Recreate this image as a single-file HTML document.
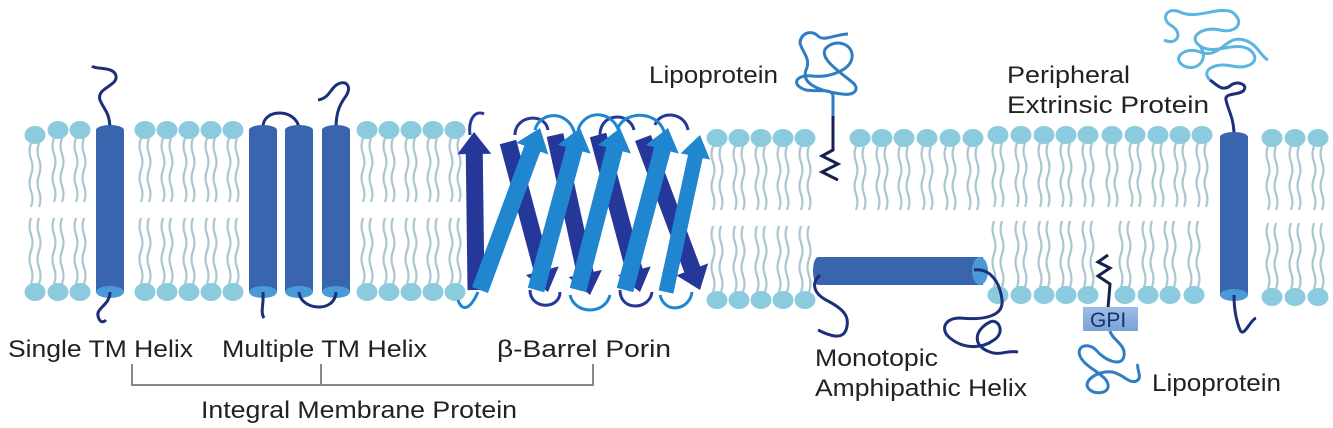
<!DOCTYPE html>
<html><head><meta charset="utf-8"><style>
html,body{margin:0;padding:0;background:#fff;width:1333px;height:428px;overflow:hidden}
text{font-family:"Liberation Sans",Arial,sans-serif;fill:#222;font-size:24px}
</style></head><body>
<svg id="s" width="1333" height="428" viewBox="0 0 1333 428" xmlns="http://www.w3.org/2000/svg">
<g id="lip"></g>
<defs>
<linearGradient id="gpi" x1="0" y1="0" x2="0" y2="1"><stop offset="0" stop-color="#9dbde6"/><stop offset="1" stop-color="#7aa3d8"/></linearGradient>
</defs>
<path d="M110 130 C110 112 104 110 100 100 C96 88 118 86 116 76 C114 66 96 70 92 66" fill="none" stroke="#1c2f7a" stroke-width="3"/>
<rect x="96" y="130" width="28" height="162" fill="#3865ad"/>
<ellipse cx="110" cy="130" rx="14" ry="5" fill="#3865ad"/>
<ellipse cx="110" cy="292" rx="14" ry="6" fill="#4a9ad8"/>
<path d="M110 292 C110 305 96 308 98 316 C100 324 104 322 106 320" fill="none" stroke="#1c2f7a" stroke-width="3"/>
<path d="M263 128 C262 108 296 108 299 128" fill="none" stroke="#1c2f7a" stroke-width="3"/>
<path d="M336 128 C336 112 340 104 346 96 C352 86 346 80 338 84 C330 88 330 98 318 100" fill="none" stroke="#1c2f7a" stroke-width="3"/>
<g fill="#3865ad">
<rect x="249" y="130" width="28" height="162"/><ellipse cx="263" cy="130" rx="14" ry="5"/>
<rect x="285" y="130" width="28" height="162"/><ellipse cx="299" cy="130" rx="14" ry="5"/>
<rect x="322" y="130" width="28" height="162"/><ellipse cx="336" cy="130" rx="14" ry="5"/>
</g>
<g fill="#4a9ad8"><ellipse cx="263" cy="292" rx="14" ry="6"/><ellipse cx="299" cy="292" rx="14" ry="6"/><ellipse cx="336" cy="292" rx="14" ry="6"/></g>
<path d="M263 292 C264 305 260 312 264 318" fill="none" stroke="#1c2f7a" stroke-width="3"/>
<path d="M299 292 C300 310 335 314 336 292" fill="none" stroke="#1c2f7a" stroke-width="3"/>
<g id="barrel"></g>
<path d="M833 96 C833 88 818 92 806 90 C790 85 796 74 812 76 C830 78 850 70 852 58 C854 44 836 38 826 48 C818 58 840 72 852 82 C860 88 856 96 842 94 C826 92 800 86 806 70 C812 58 800 50 800 42 C802 32 812 30 818 36 C824 42 836 34 848 34" fill="none" stroke="#2f7ec4" stroke-width="3"/>
<path d="M833 96 L833 116" stroke="#2f7ec4" stroke-width="3"/>
<path d="M833 116 L833 150 L822 156 L838 164 L822 172 L838 180" fill="none" stroke="#17204d" stroke-width="3"/>
<rect x="818" y="257" width="165" height="28" fill="#3865ad"/>
<ellipse cx="818" cy="271" rx="5" ry="14" fill="#3865ad"/>
<ellipse cx="980" cy="271" rx="8" ry="14" fill="#4a9ad8"/>
<path d="M820 275 C812 282 812 292 826 300 C846 310 850 318 846 330 C842 340 830 336 818 330" fill="none" stroke="#1c2f7a" stroke-width="3"/>
<path d="M974 270 C990 268 1000 282 1002 300 C1004 318 980 320 960 318 C944 318 940 330 950 338 C962 348 980 350 994 340 C1006 332 998 318 990 322 C974 330 972 346 990 352 C1000 356 1006 350 1018 352" fill="none" stroke="#1c2f7a" stroke-width="3"/>
<path d="M1108 255 L1098 262 L1110 268 L1098 276 L1110 284 L1108 308" fill="none" stroke="#17204d" stroke-width="3"/>
<rect x="1083" y="307" width="55" height="24" fill="url(#gpi)"/>
<text x="1090" y="327" style="font-size:21px;fill:#1d2f6e">GPI</text>
<path d="M1110 331 C1112 340 1126 344 1124 356 C1122 368 1104 360 1096 350 C1088 342 1076 346 1080 356 C1084 366 1100 372 1106 380 C1114 392 1098 396 1090 390 C1080 382 1098 370 1112 372 C1124 374 1130 386 1138 380 C1142 376 1136 368 1138 364" fill="none" stroke="#2f7ec4" stroke-width="3"/>
<path d="M1234 135 C1234 118 1228 110 1226 100 C1224 92 1240 96 1244 90 C1248 84 1236 80 1230 86 C1222 92 1216 84 1210 80" fill="none" stroke="#1c2f7a" stroke-width="3"/>
<path d="M1210 80 C1200 70 1215 62 1232 66 C1250 70 1262 60 1250 50 C1236 40 1214 56 1200 46 C1186 36 1205 26 1220 30 C1236 34 1246 22 1232 12 C1218 6 1196 20 1180 12 C1166 6 1160 20 1172 26 C1184 34 1176 46 1164 40 M1200 46 C1210 60 1196 72 1184 66 C1170 58 1186 46 1200 52 C1220 60 1226 34 1244 40 C1258 44 1260 56 1268 60" fill="none" stroke="#5cb4e0" stroke-width="3"/>
<rect x="1220" y="137" width="28" height="158" fill="#3865ad"/>
<ellipse cx="1234" cy="137" rx="14" ry="5" fill="#3865ad"/>
<ellipse cx="1234" cy="295" rx="14" ry="6" fill="#4a9ad8"/>
<path d="M1234 295 C1234 310 1236 320 1240 330 C1244 338 1250 320 1256 318" fill="none" stroke="#1c2f7a" stroke-width="3"/>
<g>
<text x="8" y="357" textLength="185" lengthAdjust="spacingAndGlyphs">Single TM Helix</text>
<text x="222" y="357" textLength="205" lengthAdjust="spacingAndGlyphs">Multiple TM Helix</text>
<text x="497" y="357" textLength="174" lengthAdjust="spacingAndGlyphs">β-Barrel Porin</text>
<path d="M132 364 V385 H593 V364 M321 364 V385" fill="none" stroke="#888" stroke-width="2"/>
<text x="201" y="418" textLength="316" lengthAdjust="spacingAndGlyphs">Integral Membrane Protein</text>
<text x="649" y="83" textLength="129" lengthAdjust="spacingAndGlyphs">Lipoprotein</text>
<text x="1007" y="83" textLength="123" lengthAdjust="spacingAndGlyphs">Peripheral</text>
<text x="1007" y="113" textLength="202" lengthAdjust="spacingAndGlyphs">Extrinsic Protein</text>
<text x="815" y="366" textLength="123" lengthAdjust="spacingAndGlyphs">Monotopic</text>
<text x="815" y="396" textLength="212" lengthAdjust="spacingAndGlyphs">Amphipathic Helix</text>
<text x="1152" y="391" textLength="129" lengthAdjust="spacingAndGlyphs">Lipoprotein</text>
</g>
</svg>
<script>
var NS="http://www.w3.org/2000/svg",L=document.getElementById("lip");
function el(t,a,p){var e=document.createElementNS(NS,t);for(var k in a)e.setAttribute(k,a[k]);(p||L).appendChild(e);return e;}
function tail(x,y1,y2){var d="M"+x+" "+y1,n=Math.max(2,Math.round((y2-y1)/18)),s=(y2-y1)/n;for(var i=0;i<n;i++){d+=" q"+(i%2?3:-3)+" "+s/2+" 0 "+s;}el("path",{d:d,fill:"none",stroke:"#a9c6ce","stroke-width":2.2});}
function lipid(x,y,up,len){var dir=up?1:-1;var s=y+dir*8,e=y+dir*len;tail(x-4,Math.min(s,e),Math.max(s,e));tail(x+4,Math.min(s,e),Math.max(s,e));el("ellipse",{cx:x,cy:y,rx:10.5,ry:9,fill:"#8ccbde"});}
function row(xs,ty,by,topOnly,botOnly){xs.forEach(function(x){if(!botOnly)lipid(x,ty,true,72);if(!topOnly)lipid(x,by,false,74);});}
row([35],135,292);row([58,80],130,292);
row([145,167,189,211,233],130,292);
row([367,389,411,433,455],130,292);
row([717,739,761,783,805],138,300);
row([860,882,904,927,950,973],138,300,true);
row([998,1021,1044,1066,1088,1112,1135,1158,1180,1202],135,295,true);
row([998,1021,1044,1066,1088,1125,1148,1170,1194],135,295,false,true);
row([1272,1295,1318],138,297);
var B=document.getElementById("barrel");
function strand(x1,y1,x2,y2,col,w){var dx=x2-x1,dy=y2-y1,l=Math.hypot(dx,dy),ux=dx/l,uy=dy/l,px=-uy*w/2,py=ux*w/2;var hx=x2-ux*22,hy=y2-uy*22;
var pts=[[x1+px,y1+py],[hx+px,hy+py],[hx+px*2.0,hy+py*2.0],[x2,y2],[hx-px*2.0,hy-py*2.0],[hx-px,hy-py],[x1-px,y1-py]];
el("polygon",{points:pts.map(function(p){return p.join(",")}).join(" "),fill:col},B);}
var dark="#25389a",light="#1f86cf";
el("path",{d:"M515 135 C515 115 545 112 548 130 M600 135 C600 112 630 112 634 130 M655 125 C660 110 685 112 688 130 M530 290 C530 310 560 310 560 292 M620 290 C620 312 650 310 652 292 M470 135 C468 118 476 110 484 114",fill:"none",stroke:dark,"stroke-width":3},B);
strand(508,142,548,292,dark,17);strand(555,135,590,295,dark,17);strand(598,135,640,292,dark,17);strand(643,138,700,290,dark,17);
strand(476,290,474,132,dark,17);
strand(480,290,540,128,light,17);strand(536,290,580,128,light,17);strand(578,290,620,128,light,17);strand(625,290,668,128,light,17);strand(666,292,700,135,light,15);
el("path",{d:"M535 130 C540 110 570 110 575 135 M578 130 C585 108 615 110 620 135 M618 128 C625 110 660 110 665 135 M570 295 C575 315 605 315 610 295 M660 295 C665 315 690 310 692 292 M478 292 C470 310 462 312 458 300",fill:"none",stroke:light,"stroke-width":3},B);
</script>
</body></html>
